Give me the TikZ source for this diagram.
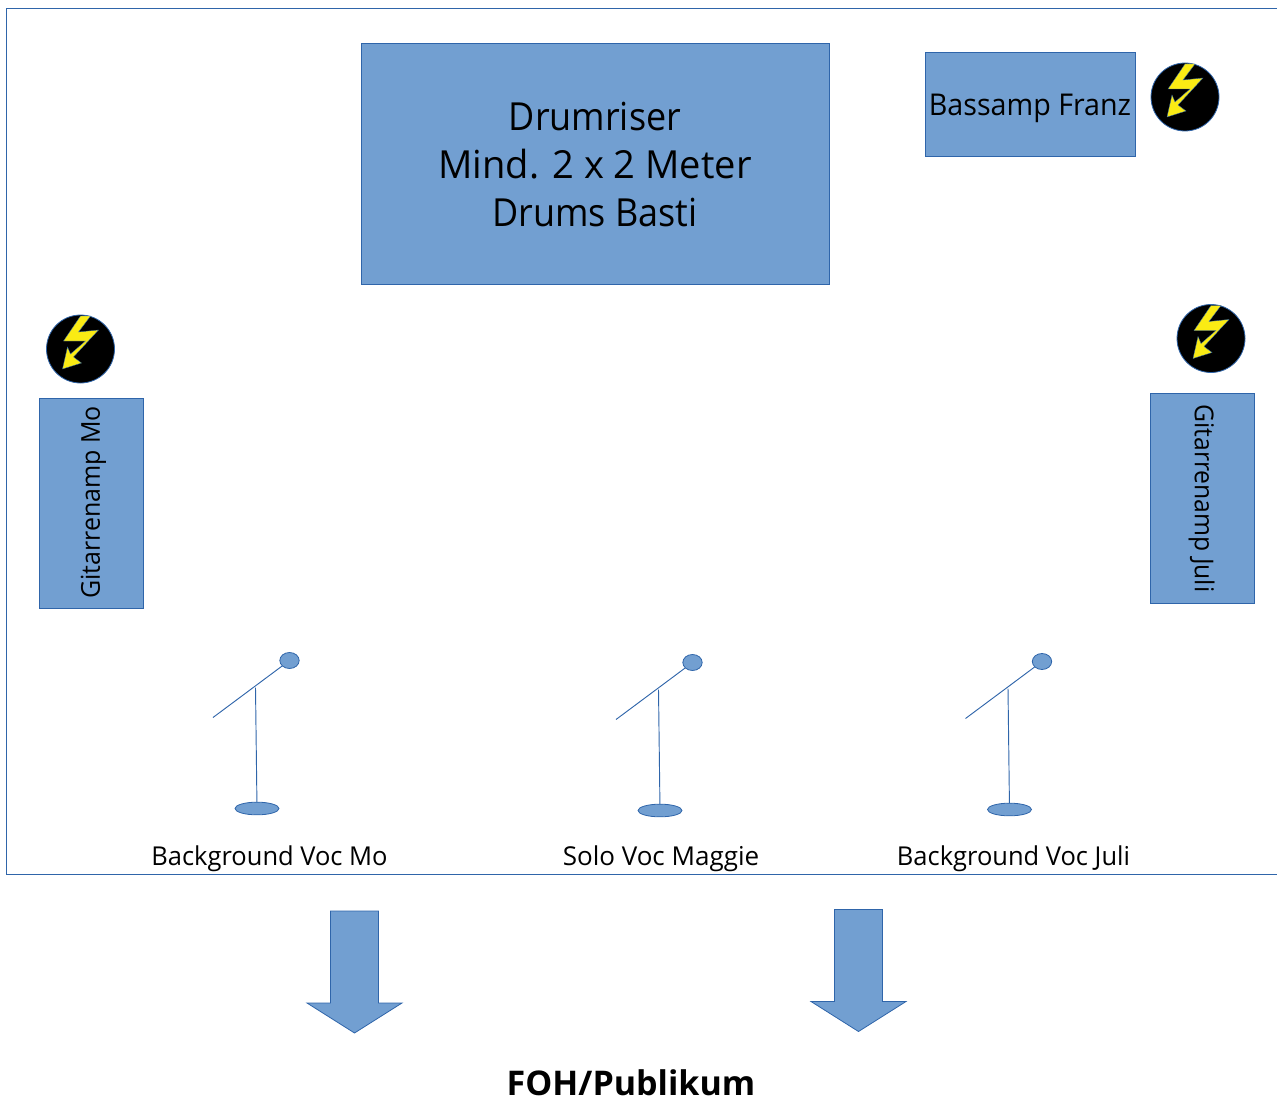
\documentclass[tikz,border=0pt]{standalone}
\usepackage{fontspec}
\setmainfont{Open Sans}
\usetikzlibrary{shapes.geometric}
\definecolor{boxfill}{RGB}{114,159,209}
\definecolor{boxline}{RGB}{47,101,170}
\definecolor{boltyellow}{RGB}{250,235,20}
\newcommand{\narrow}[2]{{\addfontfeature{FakeStretch=#1}#2}}
\tikzset{
  x=0.75pt,y=-0.75pt,
  amp/.style={draw=boxline,fill=boxfill,line width=0.6pt,inner sep=0pt,text=black,align=center},
  lbl/.style={inner sep=0pt,text=black,font=\fontsize{19.5}{24}\selectfont},
  wire/.style={draw=boxline,line width=0.7pt},
  head/.style={ellipse,draw=boxline,fill=boxfill,line width=0.6pt,inner sep=0pt},
  socket/.style={circle,draw=boxline,fill=black,line width=0.6pt,inner sep=0pt,minimum size=51pt}
}
\newcommand{\myplug}[3]{%
  \node[socket] (#1) at (#2,#3) {};
  \fill[boltyellow,draw=boxline,line width=0.25pt,shift={(#2,#3)}]
    (0,-33) -- (10,-33) -- (-2,-17) -- (18,-19) -- (-7,8) -- (1,14) -- (-18,20)
    -- (-13,-2) -- (-10,5) -- (5,-8) -- (-17,-8) -- cycle;
}
\newcommand{\mymic}[3]{%
  \begin{scope}[shift={(#2,#3)}]
    \node[head,minimum width=33pt,minimum height=9.5pt] (#1base) at (0,0) {};
    \node[head,minimum width=14.5pt,minimum height=12pt] (#1head) at (32.5,-148) {};
    \coordinate (#1end) at (-44,-91);
    \coordinate (#1joint) at (-1.5,-121);
    \draw[wire] (#1end) -- (#1head);
    \draw[wire] (#1joint) -- (#1base);
  \end{scope}
}
\newcommand{\myarrow}[3]{%
  \fill[boxfill,draw=boxline,line width=0.6pt,shift={(#2,#3)}]
    (-24,0) -- (24,0) -- (24,92) -- (47.5,92) -- (0,122) -- (-47.5,92) -- (-24,92) -- cycle;
  \coordinate (#1) at (#2,#3);
}
\begin{document}
\begin{tikzpicture}
\useasboundingbox (0,0) rectangle (1277,1102);
\draw[boxline,line width=0.6pt] (1277,8.5) -- (6.5,8.5) -- (6.5,874.5) -- (1277,874.5);

\node[amp,minimum width=351pt,minimum height=180.5pt,font=\fontsize{29}{36}\selectfont] (drums) at (595,164)
  {\narrow{0.93}{Drumriser}\\\narrow{0.985}{Mind. 2 x 2 Meter}\\\narrow{0.93}{Drums Basti}};
\node[amp,minimum width=157.5pt,minimum height=78pt] (bass) at (1030,104) {};
\node[lbl,font=\fontsize{22.5}{27}\selectfont] (basstext) at (1030,108) {\narrow{0.955}{Bassamp Franz}};
\node[amp,minimum width=78pt,minimum height=157.5pt] (gitmo) at (91,503) {};
\node[lbl,rotate=90] (gitmotext) at (93.5,502.5) {\narrow{0.96}{Gitarrenamp Mo}};
\node[amp,minimum width=78pt,minimum height=157.5pt] (gitjuli) at (1202.5,498.5) {};
\node[lbl,rotate=-90] (gitjulitext) at (1201.5,498.5) {\narrow{0.95}{Gitarrenamp Juli}};

\myplug{plugbass}{1185}{97}
\myplug{plugmo}{80.5}{349}
\myplug{plugjuli}{1211}{338.5}

\mymic{mica}{257}{808.5}
\mymic{micb}{660}{810.5}
\mymic{micc}{1009.5}{809.5}

\node[lbl] (voca) at (269.5,859) {\narrow{0.98}{Background Voc Mo}};
\node[lbl] (vocb) at (661,859) {Solo Voc Maggie};
\node[lbl] (vocc) at (1013.5,859) {\narrow{0.98}{Background Voc Juli}};

\myarrow{arra}{354.5}{911}
\myarrow{arrb}{858.5}{909.5}

\node[inner sep=0pt,text=black,font=\fontsize{25.5}{30}\selectfont\bfseries] (foh) at (631,1083) {FOH/Publikum};
\end{tikzpicture}
\end{document}
